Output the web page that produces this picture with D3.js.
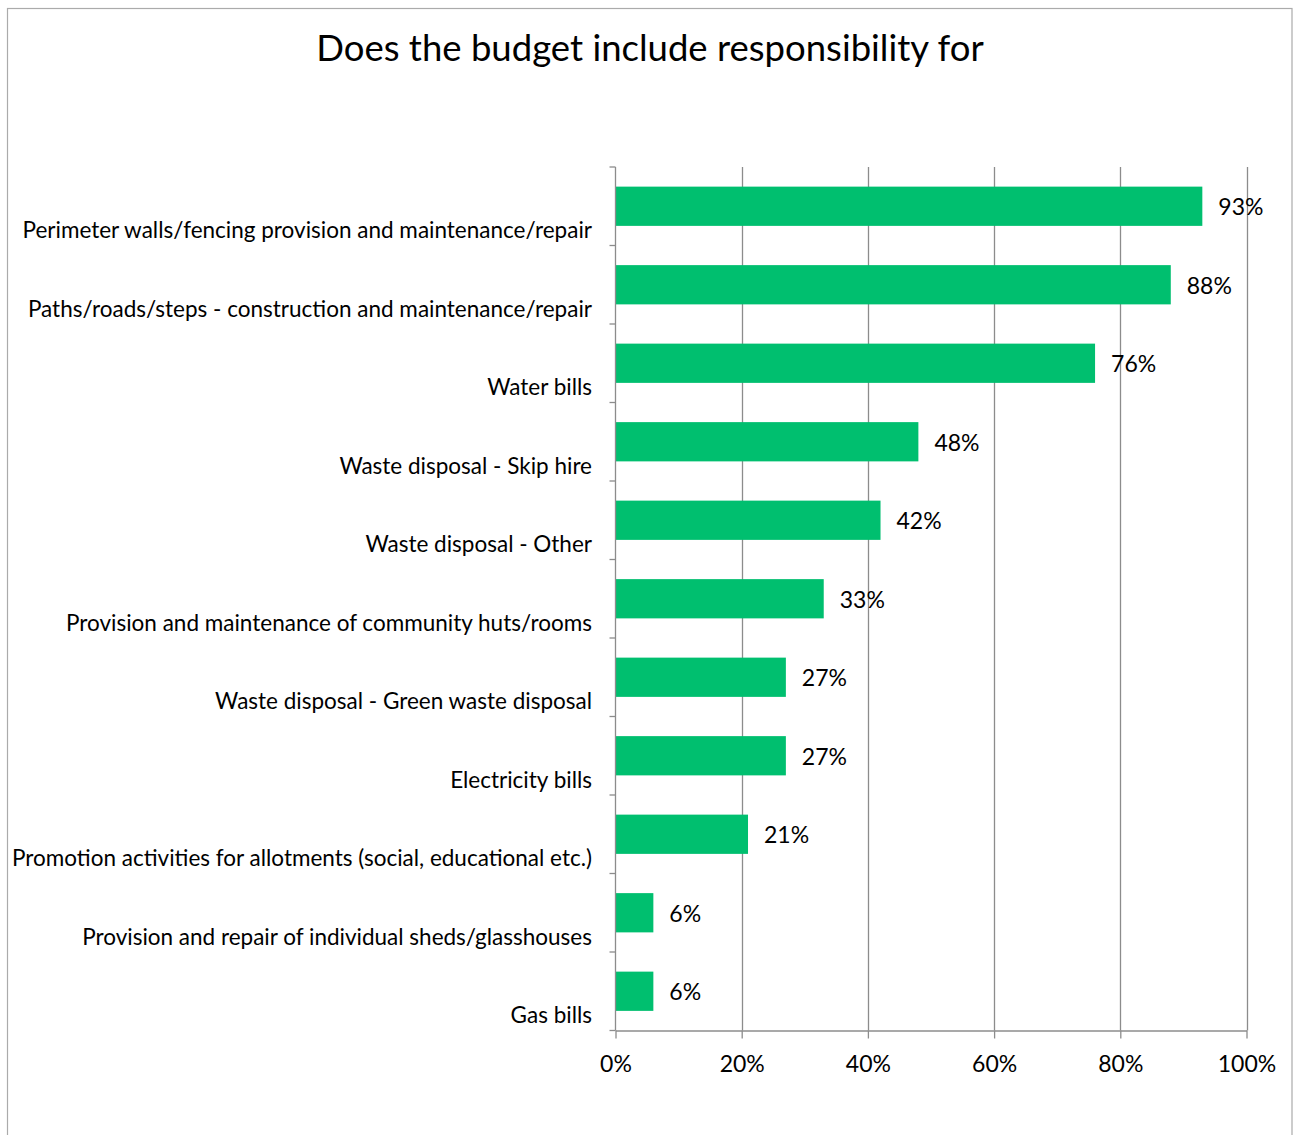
<!DOCTYPE html>
<html>
<head>
<meta charset="utf-8">
<script src="https://cdn.jsdelivr.net/npm/d3@7"></script>
<style>
  html, body { margin: 0; padding: 0; background: #fff; }
  svg { display: block; }
  text { font-family: Lato, "Open Sans", sans-serif; fill: #000; }
</style>
</head>
<body>
<svg id="chart" width="1293" height="1135"></svg>
<script>
// Survey responses: share of budgets that include each responsibility
const categories = [
  "Perimeter walls/fencing provision and maintenance/repair",
  "Paths/roads/steps - construction and maintenance/repair",
  "Water bills",
  "Waste disposal - Skip hire",
  "Waste disposal - Other",
  "Provision and maintenance of community huts/rooms",
  "Waste disposal - Green waste disposal",
  "Electricity bills",
  "Promotion activities for allotments (social, educational etc.)",
  "Provision and repair of individual sheds/glasshouses",
  "Gas bills"
];
const values = [0.93, 0.88, 0.76, 0.48, 0.42, 0.33, 0.27, 0.27, 0.21, 0.06, 0.06];
const xTicks = [0, 0.2, 0.4, 0.6, 0.8, 1.0];
const title = "Does the budget include responsibility for";

const svg = d3.select("#chart");
const W = 1293, H = 1135;
const plot = { left: 615.5, right: 1246.5, top: 167, bottom: 1030.5 };
const barColor = "#00BF6F";
const axisColor = "#8C8C8C";

svg.append("rect").attr("width", W).attr("height", H).attr("fill", "#fff");

// outer chart frame
svg.append("rect")
  .attr("x", 7.5).attr("y", 8.5)
  .attr("width", 1284.5).attr("height", 1140)
  .attr("fill", "none").attr("stroke", "#ABABAB").attr("stroke-width", 1.2);

// title
svg.append("text")
  .attr("x", 650).attr("y", 61)
  .attr("text-anchor", "middle")
  .attr("font-size", 36.5)
  .text(title);

const x = d3.scaleLinear().domain([0, 1]).range([plot.left, plot.right]);
const y = d3.scaleBand().domain(categories)
  .range([plot.top, plot.bottom])
  .paddingInner(0.5).paddingOuter(0.25);
const step = y.step();

// vertical gridlines
svg.append("g").selectAll("line")
  .data(xTicks.filter(t => t > 0))
  .join("line")
  .attr("x1", d => Math.round(x(d)) + 0.5).attr("x2", d => Math.round(x(d)) + 0.5)
  .attr("y1", plot.top).attr("y2", plot.bottom)
  .attr("stroke", axisColor).attr("stroke-width", 1.3);

// bars
svg.append("g").selectAll("rect")
  .data(categories)
  .join("rect")
  .attr("x", x(0))
  .attr("y", d => y(d))
  .attr("width", (d, i) => x(values[i]) - x(0))
  .attr("height", y.bandwidth())
  .attr("fill", barColor);

// value labels
svg.append("g").selectAll("text")
  .data(categories)
  .join("text")
  .attr("x", (d, i) => x(values[i]) + 16)
  .attr("y", d => y(d) + y.bandwidth() / 2)
  .attr("dominant-baseline", "central")
  .attr("font-size", 23)
  .text((d, i) => d3.format(".0%")(values[i]));

// bottom axis
const xAxis = d3.axisBottom(x)
  .tickValues(xTicks)
  .tickFormat(d3.format(".0%"))
  .tickSize(8)
  .tickSizeOuter(0)
  .tickPadding(17);
const gx = svg.append("g")
  .attr("transform", `translate(0,${plot.bottom})`)
  .call(xAxis);
gx.select(".domain").attr("stroke", axisColor).attr("stroke-width", 1.3);
gx.selectAll(".tick line").attr("stroke", axisColor).attr("stroke-width", 1.3);
gx.selectAll(".tick text")
  .attr("font-family", "Lato, 'Open Sans', sans-serif")
  .attr("font-size", 23)
  .attr("fill", "#000");

// left category axis: line, boundary ticks and labels
const gy = svg.append("g");
gy.append("line")
  .attr("x1", plot.left).attr("x2", plot.left)
  .attr("y1", plot.top).attr("y2", plot.bottom)
  .attr("stroke", axisColor).attr("stroke-width", 1.3);
const boundaries = categories.map(c => y(c) - y.paddingInner() * step / 2)
  .concat([plot.bottom]);
gy.selectAll("line.tick")
  .data(boundaries)
  .join("line")
  .attr("class", "tick")
  .attr("x1", plot.left - 6).attr("x2", plot.left)
  .attr("y1", d => d).attr("y2", d => d)
  .attr("stroke", axisColor).attr("stroke-width", 1.3);
gy.selectAll("text")
  .data(categories)
  .join("text")
  .attr("x", 592)
  .attr("y", d => y(d) + y.bandwidth() / 2 + step / 2 - 16)
  .attr("dominant-baseline", "central")
  .attr("text-anchor", "end")
  .attr("font-size", 22.5)
  .text(d => d);
</script>
</body>
</html>
